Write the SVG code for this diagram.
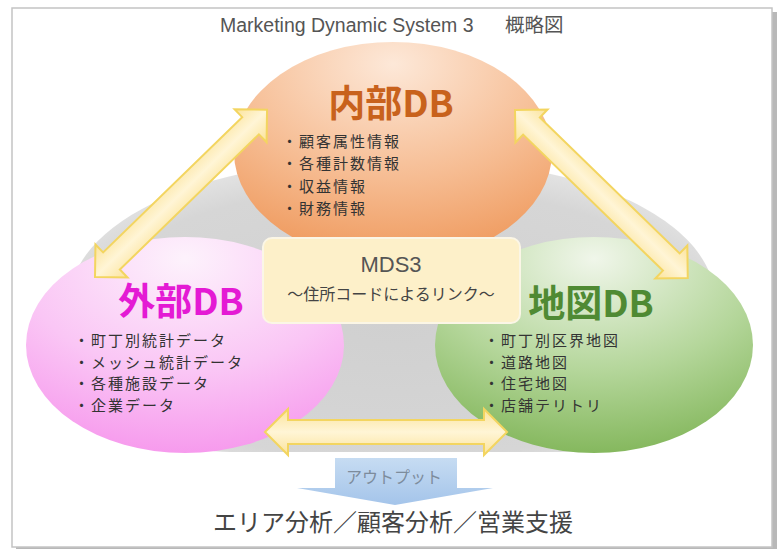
<svg xmlns="http://www.w3.org/2000/svg" width="782" height="549" viewBox="0 0 782 549">
<defs>
  <style>
    .jp { font-family: "Noto Sans CJK JP", "Noto Sans", sans-serif; }
    .lat { font-family: "Liberation Sans", "Noto Sans CJK JP", sans-serif; }
    .head { font-family: "Noto Sans CJK JP", sans-serif; font-weight: bold; font-size: 37px; text-anchor: middle; }
    .item { font-family: "Noto Sans CJK JP", sans-serif; font-size: 15px; letter-spacing: 2px; fill: #333333; }
    .dbl { stroke: #f3d560; stroke-width: 2; fill: url(#arrowFill); stroke-linejoin: miter; }
  </style>
  <linearGradient id="arrowFill" x1="0" y1="0" x2="0" y2="1">
    <stop offset="0" stop-color="#fbe39a"/>
    <stop offset="0.5" stop-color="#fff5d6"/>
    <stop offset="1" stop-color="#fbe39a"/>
  </linearGradient>
  <radialGradient id="gOrange" cx="0.5" cy="0.1" r="0.95">
    <stop offset="0" stop-color="#fde8d8"/>
    <stop offset="0.55" stop-color="#f6bc92"/>
    <stop offset="1" stop-color="#ee9556"/>
  </radialGradient>
  <radialGradient id="gPink" cx="0.5" cy="0.1" r="0.95">
    <stop offset="0" stop-color="#fdf2fc"/>
    <stop offset="0.55" stop-color="#fac6f5"/>
    <stop offset="1" stop-color="#f695ec"/>
  </radialGradient>
  <radialGradient id="gGreen" cx="0.5" cy="0.1" r="0.95">
    <stop offset="0" stop-color="#f0f6ea"/>
    <stop offset="0.55" stop-color="#b4d69a"/>
    <stop offset="1" stop-color="#7fb456"/>
  </radialGradient>
  <radialGradient id="gGray" cx="0.5" cy="0.55" r="0.6">
    <stop offset="0" stop-color="#d0d0d0"/>
    <stop offset="0.8" stop-color="#d6d6d6"/>
    <stop offset="1" stop-color="#e6e6e6"/>
  </radialGradient>
  <linearGradient id="gBlue" x1="0" y1="0" x2="0" y2="1">
    <stop offset="0" stop-color="#c6dcf2"/>
    <stop offset="1" stop-color="#a4c4ea"/>
  </linearGradient>
</defs>

<!-- frame -->
<rect x="16" y="12" width="761" height="540" fill="#b8b8b8"/>
<rect x="12" y="8" width="760" height="539" fill="#ffffff" stroke="#c4c4c4" stroke-width="1.5"/>

<text class="lat" x="220" y="32" font-size="19.5" fill="#555555">Marketing Dynamic System 3<tspan class="jp" x="505">概略図</tspan></text>

<!-- gray background -->
<path d="M 70,300 C 70,230 180,175 300,165 L 490,165 C 610,175 715,230 715,300 C 715,380 640,452 560,452 L 230,452 C 150,452 70,380 70,300 Z" fill="url(#gGray)"/>

<g id="naibu">
  <ellipse cx="393" cy="152" rx="159" ry="110" fill="url(#gOrange)"/>
  <text class="head" x="391" y="117" fill="#c8621c">内部DB</text>
  <text class="item" x="282" y="147">・顧客属性情報</text>
  <text class="item" x="282" y="169">・各種計数情報</text>
  <text class="item" x="282" y="192">・収益情報</text>
  <text class="item" x="282" y="214">・財務情報</text>
</g>

<g id="gaibu">
  <ellipse cx="185" cy="345" rx="159" ry="108" fill="url(#gPink)"/>
  <text class="head" x="181" y="315" fill="#e41ad4">外部DB</text>
  <text class="item" x="74" y="346">・町丁別統計データ</text>
  <text class="item" x="74" y="368">・メッシュ統計データ</text>
  <text class="item" x="74" y="389">・各種施設データ</text>
  <text class="item" x="74" y="411">・企業データ</text>
</g>

<g id="chizu">
  <ellipse cx="594" cy="345" rx="159" ry="108" fill="url(#gGreen)"/>
  <text class="head" x="591" y="317" fill="#4f8a33">地図DB</text>
  <text class="item" x="484" y="346">・町丁別区界地図</text>
  <text class="item" x="484" y="368">・道路地図</text>
  <text class="item" x="484" y="389">・住宅地図</text>
  <text class="item" x="484" y="411">・店舗テリトリ</text>
</g>

<g id="connectors">
  <path class="dbl" transform="translate(95,277) rotate(-44.2)" d="M0,0 L23,-23 L23,-12 L217,-12 L217,-23 L240,0 L217,23 L217,12 L23,12 L23,23 Z"/>
  <path class="dbl" transform="translate(515,110) rotate(44.2)" d="M0,0 L23,-23 L23,-12 L218,-12 L218,-23 L241,0 L218,23 L218,12 L23,12 L23,23 Z"/>
  <path class="dbl" transform="translate(265,432)" d="M0,0 L23,-23 L23,-12 L219,-12 L219,-23 L242,0 L219,23 L219,12 L23,12 L23,23 Z"/>
</g>

<g id="mds3">
  <rect x="263" y="238" width="257" height="85" rx="9" fill="#fdf0c9" stroke="#fbf6e6" stroke-width="2"/>
  <text class="lat" x="391" y="272" font-size="22" fill="#555555" text-anchor="middle">MDS3</text>
  <text class="jp" x="391" y="300" font-size="16" fill="#444444" text-anchor="middle">〜住所コードによるリンク〜</text>
</g>

<g id="output">
  <path d="M335,458 H457 V488 H493 L395,505 L297,488 H335 Z" fill="url(#gBlue)"/>
  <text class="jp" x="394" y="483" font-size="16" fill="#7d8c9c" text-anchor="middle">アウトプット</text>
</g>

<g id="result">
  <text class="jp" x="393" y="531" font-size="24" fill="#444444" text-anchor="middle">エリア分析／顧客分析／営業支援</text>
</g>
</svg>
